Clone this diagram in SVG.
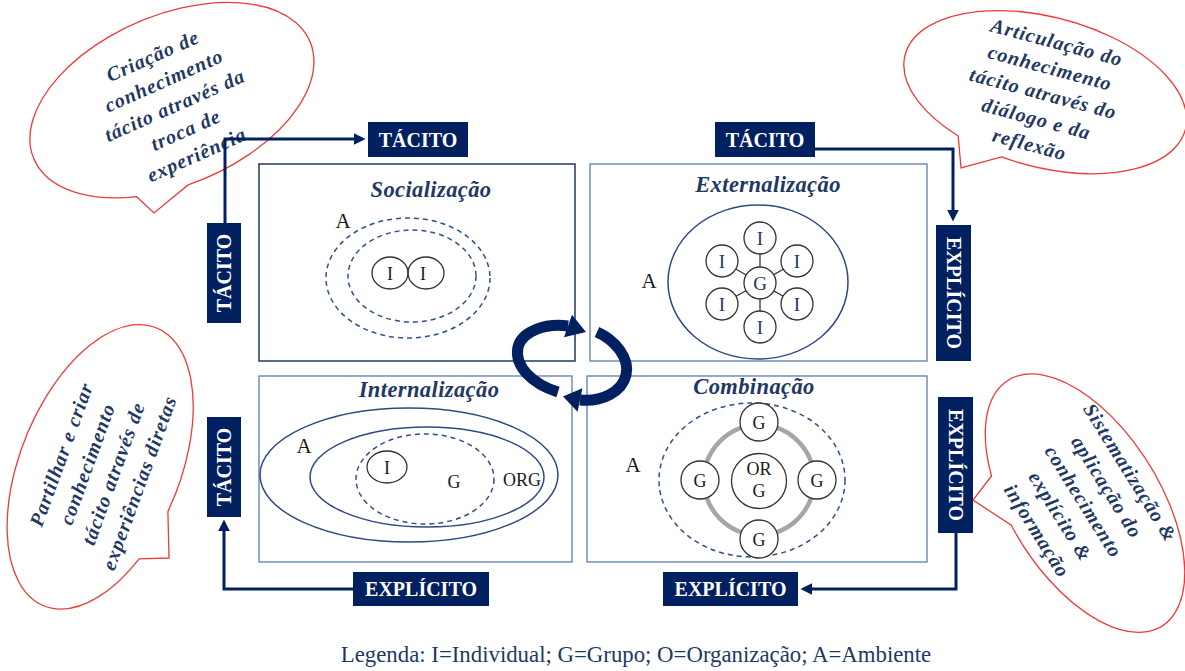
<svg xmlns="http://www.w3.org/2000/svg" width="1185" height="671" viewBox="0 0 1185 671">
  <style>
    .bubble { fill: #ffffff; stroke: #ee3a3a; stroke-width: 1.3; }
    .btxt { font-family: "Liberation Serif", "Times New Roman", serif; font-size: 20px; font-weight: bold; font-style: italic; fill: #1f3864; letter-spacing: 1px; text-anchor: middle; }
    .quad { fill: #ffffff; stroke: #5b7fae; stroke-width: 1.3; }
    .quad-dark { fill: #ffffff; stroke: #1f3864; stroke-width: 1.5; }
    .title { font-family: "Liberation Serif", "Times New Roman", serif; font-size: 22.5px; font-weight: bold; font-style: italic; fill: #1f3864; letter-spacing: 0.4px; text-anchor: middle; }
    .tag { fill: #002060; }
    .tagtxt { font-family: "Liberation Serif", "Times New Roman", serif; font-size: 20px; font-weight: bold; fill: #ffffff; text-anchor: middle; }
    .lbl { font-family: "Liberation Serif", "Times New Roman", serif; font-size: 18px; fill: #1a1a1a; text-anchor: middle; }
    .lbl-blue { font-family: "Liberation Serif", "Times New Roman", serif; font-size: 19px; fill: #1f3864; text-anchor: middle; }
    .amb { font-family: "Liberation Serif", "Times New Roman", serif; font-size: 21px; fill: #1a1a1a; text-anchor: middle; }
    .dash { fill: none; stroke: #2f4f8a; stroke-width: 1.5; stroke-dasharray: 5 4; }
    .solid { fill: none; stroke: #2f4a80; stroke-width: 1.5; }
    .node { fill: #ffffff; stroke: #333333; stroke-width: 1.3; }
    .node-open { fill: none; stroke: #333333; stroke-width: 1.3; }
    .link { stroke: #333333; stroke-width: 1.3; }
    .conn { fill: none; stroke: #002060; stroke-width: 3; }
    .cycle { fill: none; stroke: #002060; stroke-width: 11; }
  </style>
  <defs>
    <marker id="head" viewBox="0 0 10 10" refX="2" refY="5" markerWidth="12" markerHeight="12" markerUnits="userSpaceOnUse" orient="auto">
      <path d="M0,0 L10,5 L0,10 Z" fill="#002060"/>
    </marker>
  </defs>

  <!-- speech bubbles -->
  <g id="bubble-socializacao">
    <path class="bubble" d="M136.6,196.7 A150,85 -23 1 1 188.1,184.9 L154,213 Z"/>
    <g transform="translate(175,106) rotate(-24)">
      <text class="btxt" x="0" y="-48">Criação de</text>
      <text class="btxt" x="0" y="-21">conhecimento</text>
      <text class="btxt" x="0" y="6">tácito através da</text>
      <text class="btxt" x="0" y="33">troca de</text>
      <text class="btxt" x="0" y="60">experiência</text>
    </g>
  </g>
  <g id="bubble-externalizacao">
    <path class="bubble" d="M958.2,136 A145,75 15 1 1 1001.6,156.9 L961,168 Z"/>
    <g transform="translate(1043,94) rotate(15)">
      <text class="btxt" x="0" y="-46.8">Articulação do</text>
      <text class="btxt" x="0" y="-20.4">conhecimento</text>
      <text class="btxt" x="0" y="6">tácito através do</text>
      <text class="btxt" x="0" y="32.4">diálogo e da</text>
      <text class="btxt" x="0" y="58.8">reflexão</text>
    </g>
  </g>
  <g id="bubble-internalizacao">
    <path class="bubble" d="M139.1,558.8 A150,80 -68 1 1 167.9,511.5 L169,558 Z"/>
    <g transform="translate(101,469) rotate(-70)">
      <text class="btxt" x="0" y="-35.5">Partilhar e criar</text>
      <text class="btxt" x="0" y="-7.8">conhecimento</text>
      <text class="btxt" x="0" y="19.8">tácito através de</text>
      <text class="btxt" x="0" y="47.5">experiências diretas</text>
    </g>
  </g>
  <g id="bubble-combinacao">
    <path class="bubble" d="M991.5,476 A145,75 58 1 1 1011.3,525.3 L973,500 Z"/>
    <g transform="translate(1083,502) rotate(58)">
      <text class="btxt" x="0" y="-49">Sistematização &amp;</text>
      <text class="btxt" x="0" y="-21.5">aplicação do</text>
      <text class="btxt" x="0" y="6">conhecimento</text>
      <text class="btxt" x="0" y="33.5">explícito &amp;</text>
      <text class="btxt" x="0" y="61">informação</text>
    </g>
  </g>

  <!-- quadrant: Socialização -->
  <g id="socializacao">
    <rect class="quad-dark" x="259" y="164" width="316" height="197"/>
    <text class="title" x="431" y="197">Socialização</text>
    <ellipse class="dash" cx="408" cy="278" rx="82" ry="60"/>
    <ellipse class="dash" cx="412" cy="276" rx="64" ry="46"/>
    <ellipse class="node-open" cx="390" cy="273" rx="18" ry="16"/>
    <ellipse class="node-open" cx="426" cy="273" rx="18" ry="16"/>
    <text class="lbl" x="390" y="280">I</text>
    <text class="lbl" x="423" y="280">I</text>
    <text class="amb" x="343" y="228">A</text>
  </g>

  <!-- quadrant: Externalização -->
  <g id="externalizacao">
    <rect class="quad" x="590" y="164" width="337" height="197"/>
    <text class="title" x="768" y="192">Externalização</text>
    <ellipse class="solid" cx="758" cy="282" rx="90" ry="77"/>
    <g>
      <line class="link" x1="760" y1="283" x2="760" y2="238"/>
      <line class="link" x1="760" y1="283" x2="760" y2="327"/>
      <line class="link" x1="760" y1="283" x2="722" y2="261"/>
      <line class="link" x1="760" y1="283" x2="797" y2="261"/>
      <line class="link" x1="760" y1="283" x2="722" y2="304"/>
      <line class="link" x1="760" y1="283" x2="797" y2="304"/>
    </g>
    <circle class="node" cx="760" cy="283" r="16"/>
    <circle class="node" cx="760" cy="238" r="16"/>
    <circle class="node" cx="760" cy="327" r="16"/>
    <circle class="node" cx="722" cy="261" r="16"/>
    <circle class="node" cx="797" cy="261" r="16"/>
    <circle class="node" cx="722" cy="304" r="16"/>
    <circle class="node" cx="797" cy="304" r="16"/>
    <text class="lbl-blue" x="760" y="290">G</text>
    <text class="lbl-blue" x="760" y="245">I</text>
    <text class="lbl-blue" x="760" y="334">I</text>
    <text class="lbl-blue" x="722" y="268">I</text>
    <text class="lbl-blue" x="797" y="268">I</text>
    <text class="lbl-blue" x="722" y="311">I</text>
    <text class="lbl-blue" x="797" y="311">I</text>
    <text class="amb" x="649" y="288">A</text>
  </g>

  <!-- quadrant: Internalização -->
  <g id="internalizacao">
    <rect class="quad" x="259" y="376" width="313" height="186"/>
    <text class="title" x="429" y="397">Internalização</text>
    <ellipse class="solid" cx="409" cy="475" rx="149" ry="67"/>
    <ellipse class="solid" cx="427" cy="477" rx="117" ry="50"/>
    <ellipse class="dash" cx="425" cy="479" rx="69" ry="45"/>
    <ellipse class="node-open" cx="387" cy="467" rx="20" ry="16"/>
    <text class="lbl" x="387" y="474">I</text>
    <text class="lbl" x="454" y="488">G</text>
    <text class="lbl" x="522" y="486">ORG</text>
    <text class="amb" x="304" y="453">A</text>
  </g>

  <!-- quadrant: Combinação -->
  <g id="combinacao">
    <rect class="quad" x="587" y="376" width="340" height="186"/>
    <text class="title" x="754" y="394">Combinação</text>
    <ellipse class="dash" cx="752" cy="480" rx="93" ry="77"/>
    <circle cx="759" cy="480" r="55" fill="none" stroke="#a6a6a6" stroke-width="4.5"/>
    <circle class="node" cx="759" cy="422" r="19"/>
    <circle class="node" cx="759" cy="539" r="19"/>
    <circle class="node" cx="700" cy="480" r="19"/>
    <circle class="node" cx="817" cy="480" r="19"/>
    <circle class="node" cx="759" cy="481" r="27.5"/>
    <text class="lbl" x="759" y="429">G</text>
    <text class="lbl" x="759" y="546">G</text>
    <text class="lbl" x="700" y="487">G</text>
    <text class="lbl" x="817" y="487">G</text>
    <text class="lbl" x="759" y="475">OR</text>
    <text class="lbl" x="759" y="497">G</text>
    <text class="amb" x="633" y="472">A</text>
  </g>

  <!-- connectors between knowledge states -->
  <g id="connectors">
    <path class="conn" d="M225,223 V139 H356" marker-end="url(#head)"/>
    <path class="conn" d="M815,149 H953 V212" marker-end="url(#head)"/>
    <path class="conn" d="M353,589 H224 V529" marker-end="url(#head)"/>
    <path class="conn" d="M956,533 V589 H810" marker-end="url(#head)"/>
  </g>

  <!-- state tags -->
  <g id="tag-tacito-top-left">
    <rect class="tag" x="368" y="122" width="100" height="35"/>
    <text class="tagtxt" x="418" y="146.5">TÁCITO</text>
  </g>
  <g id="tag-tacito-top-right">
    <rect class="tag" x="715" y="122" width="100" height="35"/>
    <text class="tagtxt" x="765" y="146.5">TÁCITO</text>
  </g>
  <g id="tag-tacito-left-upper">
    <rect class="tag" x="207" y="223" width="34" height="100"/>
    <text class="tagtxt" transform="translate(224,273) rotate(-90)" x="0" y="7">TÁCITO</text>
  </g>
  <g id="tag-explicito-right-upper">
    <rect class="tag" x="936" y="225" width="35" height="136"/>
    <text class="tagtxt" transform="translate(953.5,293) rotate(90)" x="0" y="7">EXPLÍCITO</text>
  </g>
  <g id="tag-tacito-left-lower">
    <rect class="tag" x="207" y="417" width="34" height="100"/>
    <text class="tagtxt" transform="translate(224,467) rotate(-90)" x="0" y="7">TÁCITO</text>
  </g>
  <g id="tag-explicito-right-lower">
    <rect class="tag" x="938" y="397" width="35" height="136"/>
    <text class="tagtxt" transform="translate(955.5,465) rotate(90)" x="0" y="7">EXPLÍCITO</text>
  </g>
  <g id="tag-explicito-bottom-left">
    <rect class="tag" x="353" y="572" width="136" height="34"/>
    <text class="tagtxt" x="421" y="596">EXPLÍCITO</text>
  </g>
  <g id="tag-explicito-bottom-right">
    <rect class="tag" x="663" y="572" width="135" height="34"/>
    <text class="tagtxt" x="730.5" y="596">EXPLÍCITO</text>
  </g>

  <!-- central cycle arrows -->
  <g id="cycle">
    <path class="cycle" d="M558,392 C532,384 514,366 518,347 C522,331 546,323 568,326"/>
    <path d="M564,337.3 L572,314.7 L586,332 Z" fill="#002060"/>
    <path class="cycle" d="M597,332 C615,340 630,358 626,375 C622,392 602,402 580,400"/>
    <path d="M582.4,388.2 L577.6,411.8 L563,396.6 Z" fill="#002060"/>
  </g>

  <!-- legend -->
  <g id="legend">
    <text x="636" y="662" font-family="'Liberation Serif', 'Times New Roman', serif" font-size="22.8" fill="#1f3864" text-anchor="middle">Legenda: I=Individual; G=Grupo; O=Organização; A=Ambiente</text>
  </g>
</svg>
